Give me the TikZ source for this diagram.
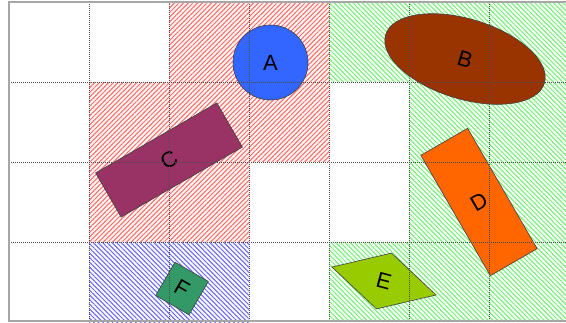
\documentclass[tikz,border=0pt]{standalone}
\usepackage{fontspec}
\setmainfont{Liberation Sans}
\usetikzlibrary{shapes.geometric,patterns.meta}
\definecolor{hatchRed}{RGB}{250,110,105}
\definecolor{hatchGreen}{RGB}{120,240,120}
\definecolor{hatchBlue}{RGB}{105,105,245}
\definecolor{pieceA}{RGB}{51,102,255}
\definecolor{pieceB}{RGB}{153,51,0}
\definecolor{pieceC}{RGB}{153,51,102}
\definecolor{pieceD}{RGB}{255,102,0}
\definecolor{pieceE}{RGB}{153,204,0}
\definecolor{pieceF}{RGB}{51,153,102}

\begin{document}
\begin{tikzpicture}[x=1pt,y=-1pt]
                  \tikzset{RedZone/.style = {pattern={Lines[angle=45,distance=3.3pt,line width=1pt]},pattern color=hatchRed},
                           GreenZone/.style = {pattern={Lines[angle=-45,distance=3.3pt,line width=1pt]},pattern color=hatchGreen},
                           BlueZone/.style = {pattern={Lines[angle=-45,distance=3.3pt,line width=1pt]},pattern color=hatchBlue},
                           Piece/.style = {draw=black!75,line width=.6pt,inner sep=0pt,font=\fontsize{22}{24}\selectfont},
                           GridLine/.style = {gray!60!black,line width=.8pt,dash pattern=on 1pt off 1pt},
                           FrameLine/.style = {gray!70,line width=1.5pt}}
                  \useasboundingbox (0,0) rectangle (566,322);
                  \clip (0,0) rectangle (566,322);
                  % hatched zones
                  \fill[hatchRed!8] (169,2) -- (329,2) -- (329,162) -- (249,162) -- (249,242) -- (89,242) -- (89,82) -- (169,82) -- cycle;
                  \fill[RedZone] (169,2) -- (329,2) -- (329,162) -- (249,162) -- (249,242) -- (89,242) -- (89,82) -- (169,82) -- cycle;
                  \fill[hatchGreen!6] (329,2) -- (569,2) -- (569,322) -- (329,322) -- (329,242) -- (409,242) -- (409,82) -- (329,82) -- cycle;
                  \fill[GreenZone] (329,2) -- (569,2) -- (569,322) -- (329,322) -- (329,242) -- (409,242) -- (409,82) -- (329,82) -- cycle;
                  \fill[hatchBlue!5] (89,242) rectangle (249,322);
                  \fill[BlueZone] (89,242) rectangle (249,322);
                  % pieces
                  \node[Piece,circle,fill=pieceA,minimum size=75] (A) at (270.5,62.5) {A};
                  \node[Piece,ellipse,fill=pieceB,minimum width=166,minimum height=80,rotate=-17] (B) at (465,59) {B};
                  \node[Piece,rectangle,fill=pieceC,minimum width=140,minimum height=51,rotate=30] (C) at (169,160) {C};
                  \node[Piece,rectangle,fill=pieceD,minimum width=54,minimum height=139,rotate=30] (D) at (479,202) {D};
                  \node[Piece,diamond,fill=pieceE,minimum width=108,minimum height=58,rotate=-15] (E) at (384,281) {E};
                  \node[Piece,rectangle,fill=pieceF,minimum size=38.5,rotate=-30] (F) at (182,288.5) {F};
                  % grid
                  \foreach \x in {89,169,...,569} \draw[GridLine] (\x,2) -- (\x,322);
                  \foreach \y in {82,162,242} \draw[GridLine] (9,\y) -- (569,\y);
                  \draw[FrameLine] (569,2) -- (9,2) -- (9,321) -- (569,321);
              \end{tikzpicture}
\end{document}
